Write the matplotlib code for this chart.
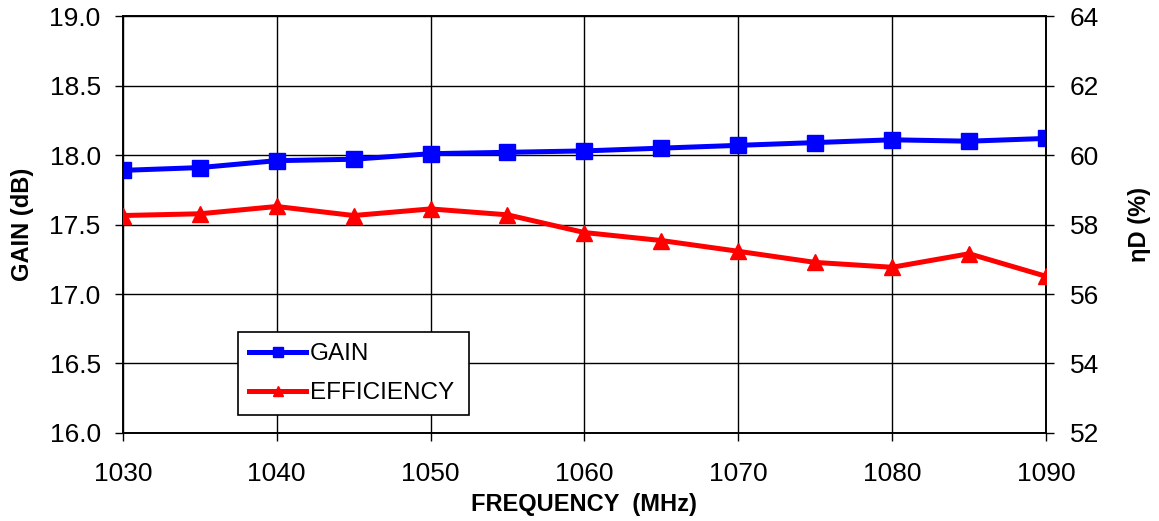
import matplotlib
matplotlib.use("Agg")
import matplotlib.pyplot as plt

plt.rcParams.update({"font.family": ["Liberation Sans", "DejaVu Sans"], "font.size": 16})

freq = [1030, 1035, 1040, 1045, 1050, 1055, 1060, 1065, 1070, 1075, 1080, 1085, 1090]
gain = [17.89, 17.91, 17.96, 17.97, 18.01, 18.02, 18.03, 18.05, 18.07, 18.09, 18.11, 18.10, 18.12]
efficiency = [58.26, 58.31, 58.52, 58.26, 58.45, 58.28, 57.77, 57.54, 57.23, 56.91, 56.77, 57.16, 56.51]

fig = plt.figure(figsize=(11.59, 5.21), dpi=100)
ax = fig.add_axes([0.106, 0.169, 0.7965, 0.800])
ax2 = ax.twinx()

l1, = ax.plot(freq, gain, color="#0000ff", lw=3.6, marker="s", ms=11, label="GAIN", zorder=3)
l2, = ax2.plot(freq, efficiency, color="#ff0000", lw=3.6, marker="^", ms=11, label="EFFICIENCY", zorder=3)

ax.set_xlim(1030, 1090)
ax.set_ylim(16.0, 19.0)
ax2.set_ylim(52, 64)
ax.set_xticks(range(1030, 1091, 10))
ax.set_yticks([16.0, 16.5, 17.0, 17.5, 18.0, 18.5, 19.0])
ax.set_yticklabels([f"{v:.1f}" for v in ax.get_yticks()])
ax2.set_yticks(range(52, 65, 2))

ax.grid(True, color="black", lw=1)
for a in (ax, ax2):
    a.tick_params(direction="out", length=6, width=1, labelsize=19)
    for s in a.spines.values():
        s.set_linewidth(1.2)
ax.tick_params(axis="y", pad=10)
ax2.tick_params(axis="y", pad=11)
ax.tick_params(axis="x", pad=15)

ax.set_xlabel("FREQUENCY  (MHz)", fontweight="bold", fontsize=17, labelpad=5)
ax.set_ylabel("GAIN (dB)", fontweight="bold", fontsize=17, labelpad=11)
ax2.set_ylabel("ηD (%)", fontweight="bold", fontsize=17, labelpad=21)

leg = ax.legend(handles=[l1, l2], loc="lower left", bbox_to_anchor=(0.125, 0.043, 0.25, 0.205),
                mode="expand", borderaxespad=0, fancybox=False, edgecolor="black", framealpha=1,
                fontsize=17.5, markerscale=0.6, handlelength=2.35, handletextpad=0.15,
                borderpad=0.45, labelspacing=0.7)
leg.get_frame().set_linewidth(1.2)
leg.set_zorder(5)

fig.savefig("out.png", dpi=100)
